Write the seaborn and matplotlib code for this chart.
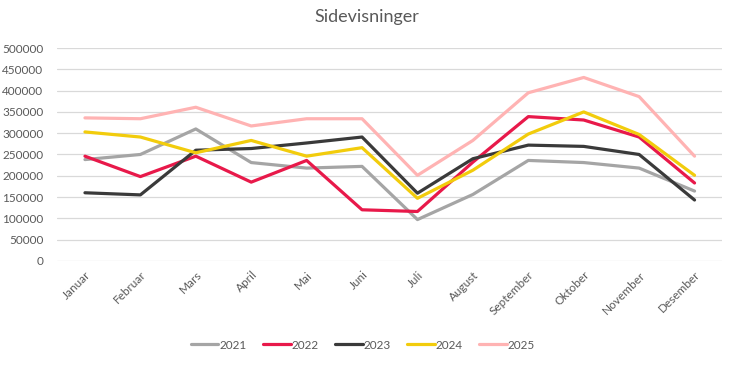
import pandas as pd
import matplotlib.pyplot as plt
import seaborn as sns

months = ["Januar", "Februar", "Mars", "April", "Mai", "Juni", "Juli",
          "August", "September", "Oktober", "November", "Desember"]
years = ["2021", "2022", "2023", "2024", "2025"]

views_2021 = [238000, 250000, 310000, 231000, 218000, 222000, 97000, 156000, 236000, 231000, 218000, 164000]
views_2022 = [246000, 198000, 246000, 185000, 236000, 120000, 116000, 232000, 339000, 331000, 291000, 183000]
views_2023 = [160000, 155000, 260000, 264000, 277000, 291000, 159000, 240000, 272000, 269000, 250000, 143000]
views_2024 = [303000, 291000, 254000, 283000, 246000, 266000, 147000, 213000, 298000, 350000, 297000, 201000]
views_2025 = [336000, 334000, 361000, 317000, 334000, 334000, 201000, 283000, 395000, 431000, 386000, 246000]

colors = ["#A5A5A5", "#E8194A", "#3A3A3A", "#F2CC0C", "#FFB3B3"]

series = [views_2021, views_2022, views_2023, views_2024, views_2025]
df = pd.DataFrame({
    "Måned": months * len(years),
    "År": [y for y in years for _ in months],
    "Sidevisninger": [v for s in series for v in s],
})

sns.set_style("white")
plt.rcParams["font.family"] = ["Lato", "DejaVu Sans"]
text_color = "#595959"

fig = plt.figure(figsize=(7.34, 3.70), dpi=100)
ax = fig.add_axes([0.078, 0.295, 0.906, 0.575])

sns.lineplot(data=df, x="Måned", y="Sidevisninger", hue="År", palette=colors,
             linewidth=2.3, sort=False, ax=ax)

ax.set_xlim(-0.5, len(months) - 0.5)
ax.set_ylim(0, 500000)
ax.set_yticks(range(0, 500001, 50000))
ax.grid(axis="y", color="#D9D9D9", linewidth=0.9)
ax.set_axisbelow(True)
for s in ax.spines.values():
    s.set_visible(False)
ax.tick_params(axis="both", length=0, colors=text_color, labelsize=8.5)
ax.tick_params(axis="y", pad=10)
ax.tick_params(axis="x", pad=6)
plt.setp(ax.get_xticklabels(), rotation=45, ha="right", rotation_mode="anchor")
ax.set_xlabel("")
ax.set_ylabel("")

fig.suptitle("Sidevisninger", y=0.975, fontsize=13, color=text_color)

ax.legend(loc="upper center", bbox_to_anchor=(0.46, -0.32), ncol=5, frameon=False,
          fontsize=8.5, labelcolor=text_color, handlelength=2.3, handletextpad=0.1,
          columnspacing=1.4)

fig.savefig("out.png", dpi=100)
